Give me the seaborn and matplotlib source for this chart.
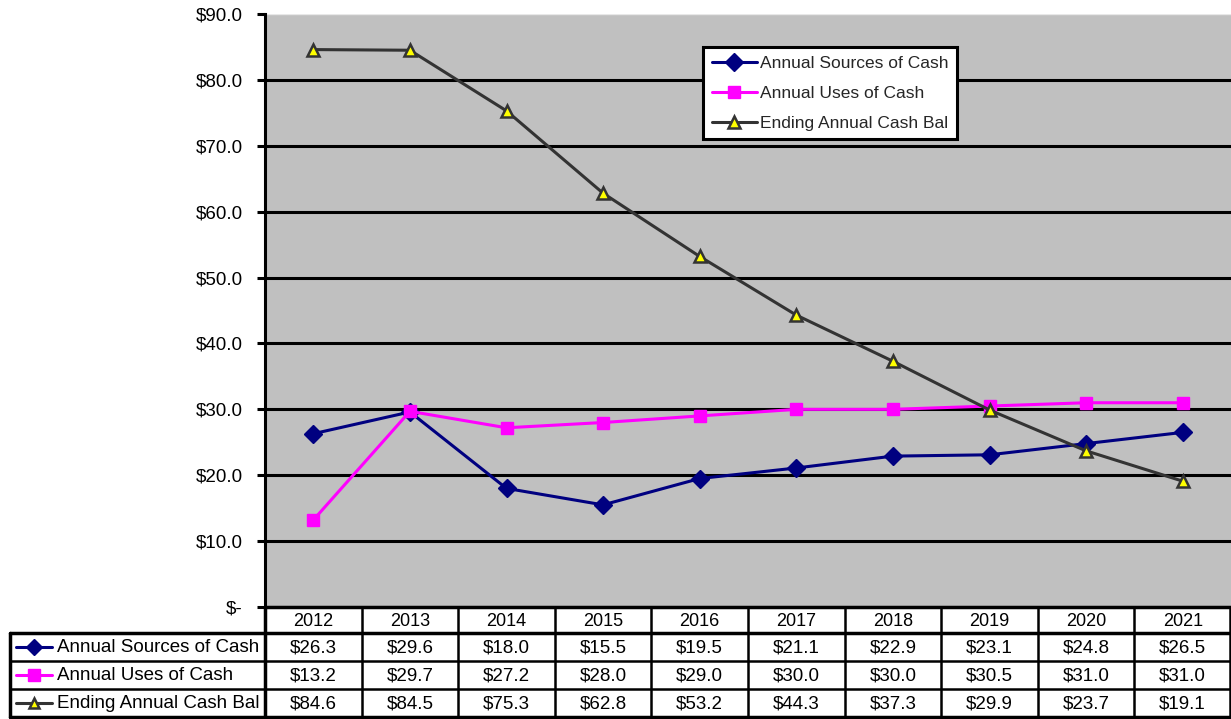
import matplotlib
matplotlib.use("Agg")
import matplotlib.pyplot as plt
from matplotlib.lines import Line2D
import seaborn as sns
import pandas as pd

years = ["2012", "2013", "2014", "2015", "2016", "2017", "2018", "2019", "2020", "2021"]
sources = [26.3, 29.6, 18.0, 15.5, 19.5, 21.1, 22.9, 23.1, 24.8, 26.5]
uses = [13.2, 29.7, 27.2, 28.0, 29.0, 30.0, 30.0, 30.5, 31.0, 31.0]
ending = [84.6, 84.5, 75.3, 62.8, 53.2, 44.3, 37.3, 29.9, 23.7, 19.1]
series_names = ["Annual Sources of Cash", "Annual Uses of Cash", "Ending Annual Cash Bal"]
y_ticks = [0, 10, 20, 30, 40, 50, 60, 70, 80, 90]

sns.set_theme(style="white")
plt.rcParams["font.family"] = ["Liberation Sans", "DejaVu Sans"]

W, H = 1231, 719
fig = plt.figure(figsize=(W / 100, H / 100), dpi=100)

# plot area in pixel terms
px_left, px_right, px_top, px_bottom = 265, 1231, 14, 607
ax = fig.add_axes([px_left / W, (H - px_bottom) / H,
                   (px_right - px_left) / W, (px_bottom - px_top) / H])
ax.set_facecolor("#C0C0C0")

styles = [
    dict(color="#000080", marker="D", markersize=9, mfc="#000080", mec="#000080"),
    dict(color="#FF00FF", marker="s", markersize=9, mfc="#FF00FF", mec="#FF00FF"),
    dict(color="#333333", marker="^", markersize=8.5, mfc="#FFFF00", mec="#333333", mew=1.8),
]
values = [sources, uses, ending]

df = pd.DataFrame({"idx": list(range(len(years))) * 3,
                   "value": sources + uses + ending,
                   "series": sum([[n] * len(years) for n in series_names], [])})

for name, st in zip(series_names, styles):
    sub = df[df["series"] == name]
    sns.lineplot(data=sub, x="idx", y="value", ax=ax, label=name,
                 color=st["color"], linewidth=2.2, marker=st["marker"],
                 markersize=st["markersize"], markerfacecolor=st["mfc"],
                 markeredgecolor=st["mec"], markeredgewidth=st.get("mew", 1.0),
                 zorder=3)

ax.set_xlim(-0.5, len(years) - 0.5)
ax.set_ylim(0, 90)
ax.set_yticks(y_ticks)
ax.set_yticklabels(["$-" if v == 0 else f"${v:.1f}" for v in y_ticks], fontsize=13.5)
ax.set_xticks([])
ax.set_xlabel("")
ax.set_ylabel("")
for v in y_ticks[1:-1]:
    ax.axhline(v, color="black", linewidth=2.2, zorder=1)
ax.axhline(90, color="#E8E8E8", linewidth=1.0, zorder=1)
for s in ["top", "right", "bottom"]:
    ax.spines[s].set_visible(False)
ax.spines["left"].set_color("black")
ax.spines["left"].set_linewidth(2.2)
ax.tick_params(axis="y", which="major", left=True, length=6, width=2.2,
               color="black", direction="out", pad=10, labelcolor="black")

leg = ax.legend(loc="upper left",
                bbox_to_anchor=((703 - px_left) / (px_right - px_left),
                                (px_bottom - 47) / (px_bottom - px_top)),
                frameon=True, fancybox=False, fontsize=12.5, handlelength=2.6,
                handletextpad=0.2, labelspacing=0.85, borderpad=0.5,
                borderaxespad=0)
leg.get_frame().set_edgecolor("black")
leg.get_frame().set_linewidth(2.2)
leg.get_frame().set_facecolor("white")
leg.get_frame().set_alpha(1)

# data table below the plot, laid out in pixel coordinates
tab = fig.add_axes([0, 0, 1, 1], facecolor="none")
tab.set_xlim(0, W)
tab.set_ylim(H, 0)
tab.axis("off")

col_w = (px_right - px_left) / len(years)
row_y = [607, 633, 661, 689, 717]
label_x0 = 10
lw_in, lw_out = 1.8, 2.5

# horizontal lines
tab.plot([px_left, px_right], [row_y[0], row_y[0]], color="black", lw=lw_out)
tab.plot([label_x0, px_right], [row_y[1], row_y[1]], color="black", lw=lw_out)
for yy in row_y[2:4]:
    tab.plot([label_x0, px_right], [yy, yy], color="black", lw=lw_in)
tab.plot([label_x0, px_right], [row_y[4], row_y[4]], color="black", lw=lw_out)
# vertical lines
tab.plot([label_x0, label_x0], [row_y[1], row_y[4]], color="black", lw=lw_out)
tab.plot([px_left, px_left], [row_y[0], row_y[4]], color="black", lw=lw_out)
for i in range(1, len(years)):
    xx = px_left + i * col_w
    tab.plot([xx, xx], [row_y[0], row_y[4]], color="black", lw=lw_in)
tab.plot([px_right - 1, px_right - 1], [row_y[0], row_y[4]], color="black", lw=lw_in)

for i, yr in enumerate(years):
    tab.text(px_left + (i + 0.5) * col_w, (row_y[0] + row_y[1]) / 2 + 1, yr,
             ha="center", va="center", fontsize=13, color="black")

for r, (name, st, vals) in enumerate(zip(series_names, styles, values)):
    yc = (row_y[r + 1] + row_y[r + 2]) / 2 + 1
    tab.add_line(Line2D([16, 34, 52], [yc - 1] * 3, color=st["color"], lw=2.2,
                        marker=st["marker"], markevery=[1],
                        markersize=st["markersize"] - 1,
                        markerfacecolor=st["mfc"], markeredgecolor=st["mec"],
                        markeredgewidth=st.get("mew", 1.0)))
    tab.text(57, yc, name, ha="left", va="center", fontsize=13.5, color="black")
    for i, v in enumerate(vals):
        tab.text(px_left + (i + 0.5) * col_w, yc, f"${v:.1f}",
                 ha="center", va="center", fontsize=13.5, color="black")

fig.savefig("out.png", dpi=100)
